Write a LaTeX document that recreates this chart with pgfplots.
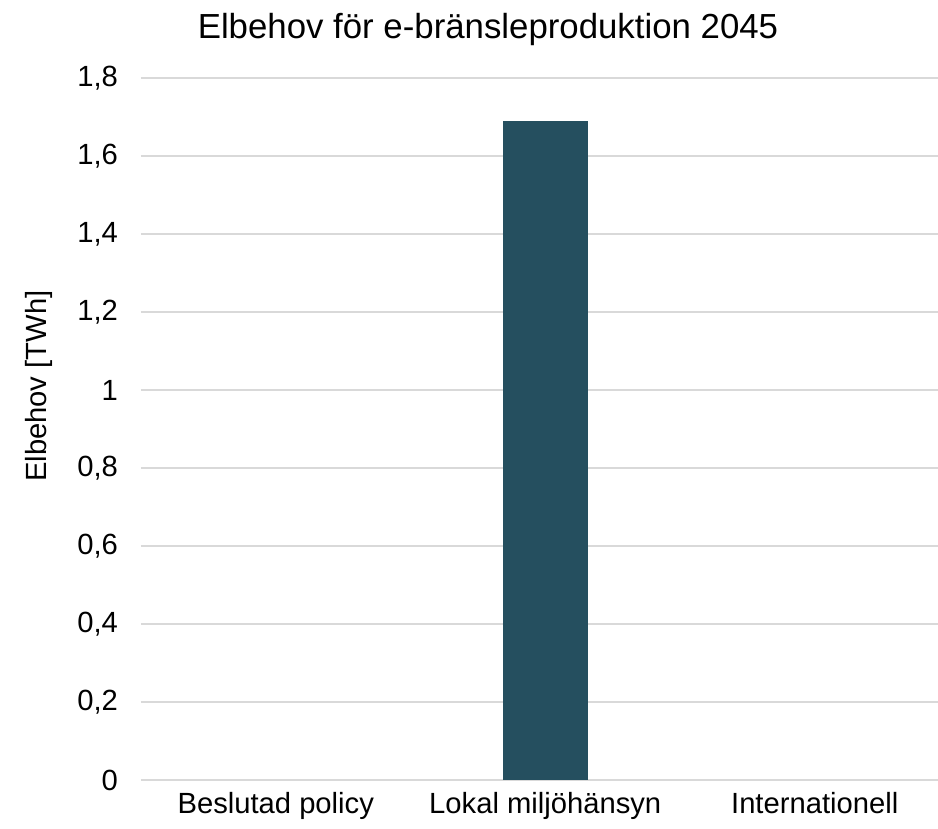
\documentclass[border=0pt]{standalone}
\usepackage{pgfplots}
\pgfplotsset{compat=1.18}
\usepackage{fontspec}
\setmainfont{Liberation Sans}
\definecolor{barcol}{RGB}{37,79,95}
\definecolor{gridcol}{RGB}{217,217,217}
\begin{document}
\begin{tikzpicture}
\useasboundingbox (-70.5pt,-24.5pt) rectangle (398.5pt,390pt);
\begin{axis}[
  at={(0,0)}, anchor=south west,
  scale only axis,
  width=404.25pt, height=351pt,
  xmin=-0.5, xmax=2.5,
  ymin=0, ymax=1.8,
  xtick={0,1,2},
  xticklabels={Beslutad policy, Lokal miljöhänsyn, Internationell},
  ytick={0,0.2,...,1.8},
  ymajorgrids,
  major grid style={draw=gridcol, line width=1pt},
  axis line style={draw=none},
  major tick length=0pt,
  tick label style={font=\fontsize{14.6}{17}\selectfont},
  /pgf/number format/assume math mode=true,
  /pgf/number format/use comma,
  /pgf/number format/fixed,
  yticklabel style={anchor=east, xshift=-8pt},
  xticklabel style={anchor=north, yshift=-2.5pt},
  ylabel={Elbehov [TWh]},
  ylabel style={font=\fontsize{14.6}{17}\selectfont, yshift=5.5pt},
  every axis y label/.append style={at={(ticklabel cs:0.561)}},
  clip=false,
]
\addplot[ybar, bar width=42.5pt, fill=barcol, draw=none] coordinates {(1,1.69)};
\end{axis}
\node[font=\fontsize{17.4}{20}\selectfont] at (173.5pt,375pt) {Elbehov för e-bränsleproduktion 2045};
\end{tikzpicture}
\end{document}
